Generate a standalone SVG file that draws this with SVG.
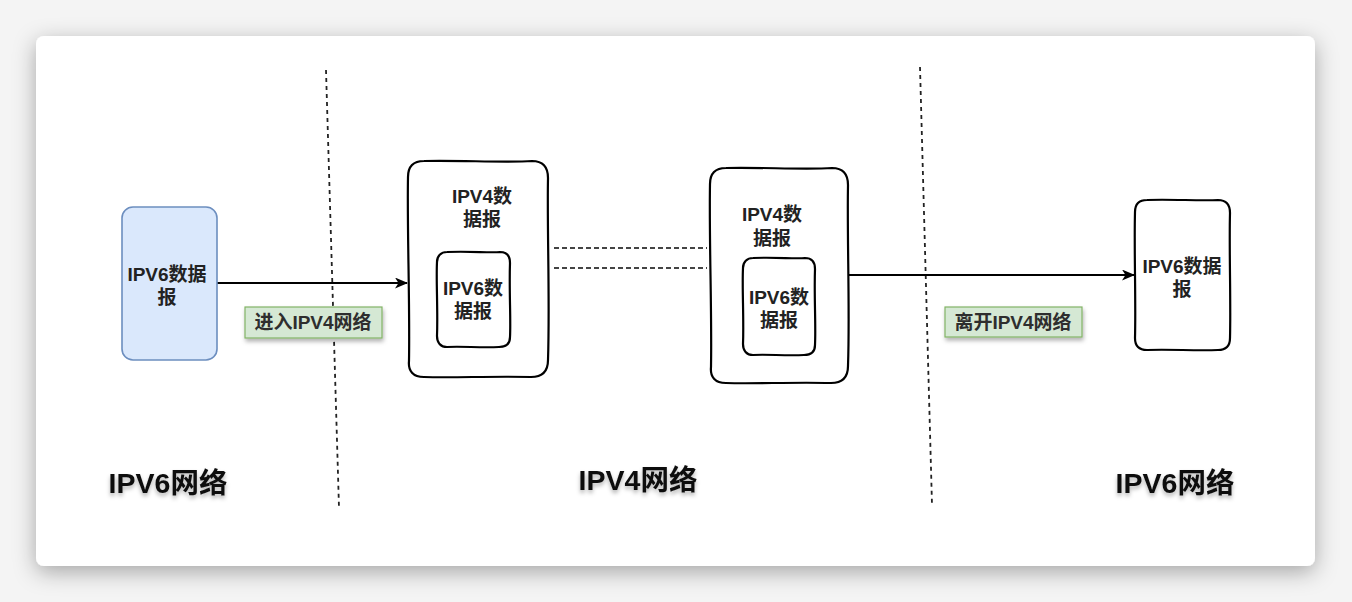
<svg xmlns="http://www.w3.org/2000/svg" width="1352" height="602" viewBox="0 0 1352 602">
  <defs>
    <filter id="cardShadow" x="-5%" y="-10%" width="110%" height="125%">
      <feDropShadow dx="0" dy="6" stdDeviation="11" flood-color="#000" flood-opacity="0.32"/>
    </filter>
    <filter id="txtShadow" x="-10%" y="-30%" width="120%" height="180%">
      <feDropShadow dx="0" dy="3" stdDeviation="2" flood-color="#000" flood-opacity="0.3"/>
    </filter>
    <filter id="lblShadow" x="-10%" y="-30%" width="120%" height="180%">
      <feDropShadow dx="1" dy="3" stdDeviation="2" flood-color="#000" flood-opacity="0.3"/>
    </filter>
    <marker id="arrow" viewBox="0 0 13 11" refX="12" refY="5.5" markerWidth="13" markerHeight="11" markerUnits="userSpaceOnUse" orient="auto">
      <path d="M0,0 L13,5.5 L0,11 L3.5,5.5 Z" fill="#000"/>
    </marker>
    <style>
      text { font-family: "Liberation Sans", "Noto Sans CJK SC", sans-serif; text-anchor: middle; fill: #1a1a1a; }
      .node-txt { font-size: 19px; font-weight: bold; fill: #222; }
      .lbl-txt { font-size: 19px; font-weight: bold; fill: #2e2e2e; }
      .net-txt { font-size: 28.5px; font-weight: bold; fill: #111; }
      .sketch { fill: #fff; stroke: #000; stroke-width: 2.2; stroke-linejoin: round; }
      .divider { stroke: #222; stroke-width: 1.8; stroke-dasharray: 4 4; fill: none; }
      .tunnel { stroke: #444; stroke-width: 2; stroke-dasharray: 5 3; fill: none; }
      .flow { stroke: #000; stroke-width: 2; fill: none; }
      .lbl-box { fill: #d5e8d4; stroke: #82b366; stroke-width: 1.2; }
    </style>
  </defs>

  <rect width="1352" height="602" fill="#f4f4f4"/>
  <rect x="36" y="36" width="1279" height="530" rx="8" fill="#fff" filter="url(#cardShadow)"/>

  <g id="connectors">
    <line class="divider" x1="326" y1="70" x2="339" y2="508"/>
    <line class="divider" x1="920" y1="67" x2="932" y2="505"/>
    <line class="tunnel" x1="554" y1="248" x2="707" y2="248"/>
    <line class="tunnel" x1="554" y1="268" x2="707" y2="268"/>
    <line class="flow" x1="217" y1="283" x2="407" y2="283" marker-end="url(#arrow)"/>
    <line class="flow" x1="849" y1="275" x2="1134" y2="275" marker-end="url(#arrow)"/>
  </g>

  <g id="ipv6-src">
    <rect x="122" y="207" width="95" height="153" rx="11" fill="#dae8fc" stroke="#6c8ebf" stroke-width="1.6"/>
    <text class="node-txt" x="167" y="281">IPV6数据</text>
    <text class="node-txt" x="167" y="304">报</text>
  </g>

  <g id="ipv4-box-1">
    <path class="sketch" d="M424,161 C460,160 505,163 532,161 C543,161 548,167 548,178 C547,230 550,300 548,360 C548,371 543,377 531,377 C490,376 455,378 424,377 C413,377 408,371 409,361 C410,300 407,230 408,177 C408,167 413,161 424,161 Z"/>
    <text class="node-txt" x="482" y="203">IPV4数</text>
    <text class="node-txt" x="482" y="226">据报</text>
  </g>
  <g id="ipv6-inner-1">
    <path class="sketch" d="M447,252 C470,251 490,253 500,252 C507,252 510,256 510,263 C509,290 511,320 510,337 C510,344 506,347 499,347 C480,348 462,346 447,347 C441,347 437,343 437,336 C438,310 436,280 437,262 C437,256 441,252 447,252 Z"/>
    <text class="node-txt" x="473" y="295">IPV6数</text>
    <text class="node-txt" x="473" y="318">据报</text>
  </g>

  <g id="ipv4-box-2">
    <path class="sketch" d="M726,168 C760,167 805,170 832,168 C843,168 848,174 848,185 C847,240 850,310 848,366 C848,377 843,383 831,383 C790,382 755,384 726,383 C715,383 710,377 711,367 C712,310 709,240 710,184 C710,174 715,168 726,168 Z"/>
    <text class="node-txt" x="772" y="221">IPV4数</text>
    <text class="node-txt" x="772" y="245">据报</text>
  </g>
  <g id="ipv6-inner-2">
    <path class="sketch" d="M753,258 C776,257 795,259 805,258 C812,258 815,262 815,269 C814,295 816,325 815,345 C815,352 811,355 804,355 C785,356 767,354 753,355 C747,355 743,351 743,344 C744,318 742,288 743,268 C743,262 747,258 753,258 Z"/>
    <text class="node-txt" x="779" y="304">IPV6数</text>
    <text class="node-txt" x="779" y="327">据报</text>
  </g>

  <g id="ipv6-dst">
    <path class="sketch" d="M1147,200 C1170,199 1200,201 1218,200 C1226,200 1230,205 1230,213 C1229,250 1231,300 1230,338 C1230,346 1226,350 1218,350 C1195,351 1170,349 1147,350 C1139,350 1135,346 1135,338 C1136,300 1134,250 1135,212 C1135,204 1139,200 1147,200 Z"/>
    <text class="node-txt" x="1182" y="273">IPV6数据</text>
    <text class="node-txt" x="1182" y="296">报</text>
  </g>

  <g id="label-enter">
    <rect class="lbl-box" x="245" y="307" width="137" height="31" filter="url(#lblShadow)"/>
    <text class="lbl-txt" x="313" y="329">进入IPV4网络</text>
  </g>
  <g id="label-leave">
    <rect class="lbl-box" x="945" y="307" width="137" height="30" filter="url(#lblShadow)"/>
    <text class="lbl-txt" x="1013" y="329">离开IPV4网络</text>
  </g>

  <g id="net-ipv6-left">
    <text class="net-txt" x="168" y="493" filter="url(#txtShadow)">IPV6网络</text>
  </g>
  <g id="net-ipv4">
    <text class="net-txt" x="638" y="490" filter="url(#txtShadow)">IPV4网络</text>
  </g>
  <g id="net-ipv6-right">
    <text class="net-txt" x="1175" y="493" filter="url(#txtShadow)">IPV6网络</text>
  </g>
</svg>
